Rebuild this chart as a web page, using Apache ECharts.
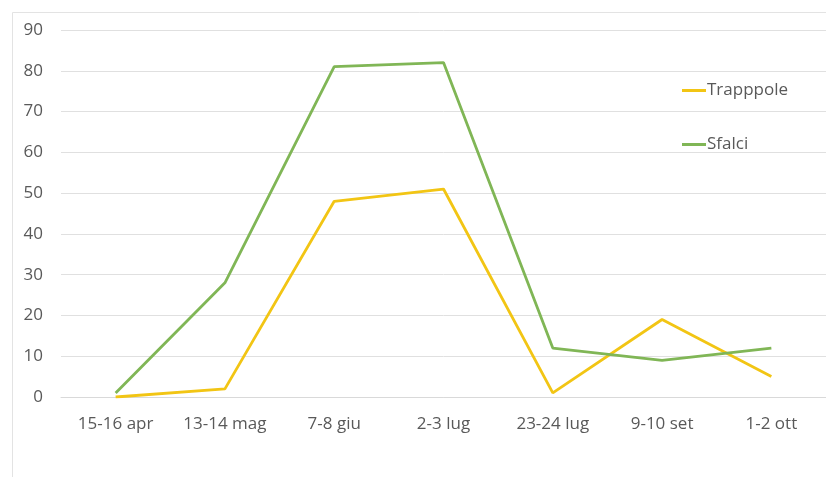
<!DOCTYPE html>
<html>
<head>
<meta charset="utf-8">
<script src="https://cdn.jsdelivr.net/npm/echarts@6/dist/echarts.min.js"></script>
<style>
  html, body { margin: 0; padding: 0; background: #fff; }
  #chart { width: 826px; height: 477px; }
</style>
</head>
<body>
<div id="chart"></div>
<script>
// Survey dates
const categories = ['15-16 apr', '13-14 mag', '7-8 giu', '2-3 lug', '23-24 lug', '9-10 set', '1-2 ott'];
// Counts per method
const trappole = [0, 2, 48, 51, 1, 19, 5];
const sfalci = [1, 28, 81, 82, 12, 9, 12];
// Value axis ticks
const yTicks = [0, 10, 20, 30, 40, 50, 60, 70, 80, 90];

const font = '"Open Sans", "Noto Sans", sans-serif';
const chart = echarts.init(document.getElementById('chart'), null, { renderer: 'canvas' });

chart.setOption({
  animation: false,
  backgroundColor: '#ffffff',
  graphic: [{
    type: 'polyline',
    shape: { points: [[12.5, 477], [12.5, 12.5], [826, 12.5]] },
    style: { stroke: '#e3e3e3', lineWidth: 1, fill: null },
    silent: true
  }],
  grid: { left: 61, right: -1, top: 30, bottom: 80, containLabel: false },
  legend: {
    orient: 'vertical',
    left: 677,
    top: 77,
    itemGap: 37,
    itemWidth: 24,
    itemHeight: 3,
    icon: 'rect',
    textStyle: { color: '#595959', fontSize: 17, fontFamily: font, padding: [0, 0, 0, -4] },
    data: ['Trapppole', 'Sfalci']
  },
  xAxis: {
    type: 'category',
    data: categories,
    boundaryGap: true,
    axisLine: { show: true, lineStyle: { color: '#d9d9d9', width: 1 } },
    axisTick: { show: false },
    axisLabel: { color: '#595959', fontSize: 17, fontFamily: font, margin: 19 }
  },
  yAxis: {
    type: 'value',
    min: yTicks[0],
    max: yTicks[yTicks.length - 1],
    interval: yTicks[1] - yTicks[0],
    axisLine: { show: false },
    axisTick: { show: false },
    splitLine: { lineStyle: { color: '#e0e0e0', width: 1 } },
    axisLabel: { color: '#595959', fontSize: 17, fontFamily: font, margin: 18 }
  },
  series: [
    {
      name: 'Trapppole',
      type: 'line',
      data: trappole,
      symbol: 'none',
      lineStyle: { color: '#f2c514', width: 2.8 },
      itemStyle: { color: '#f2c514' }
    },
    {
      name: 'Sfalci',
      type: 'line',
      data: sfalci,
      symbol: 'none',
      lineStyle: { color: '#80b656', width: 2.8 },
      itemStyle: { color: '#80b656' }
    }
  ]
});
</script>
</body>
</html>
